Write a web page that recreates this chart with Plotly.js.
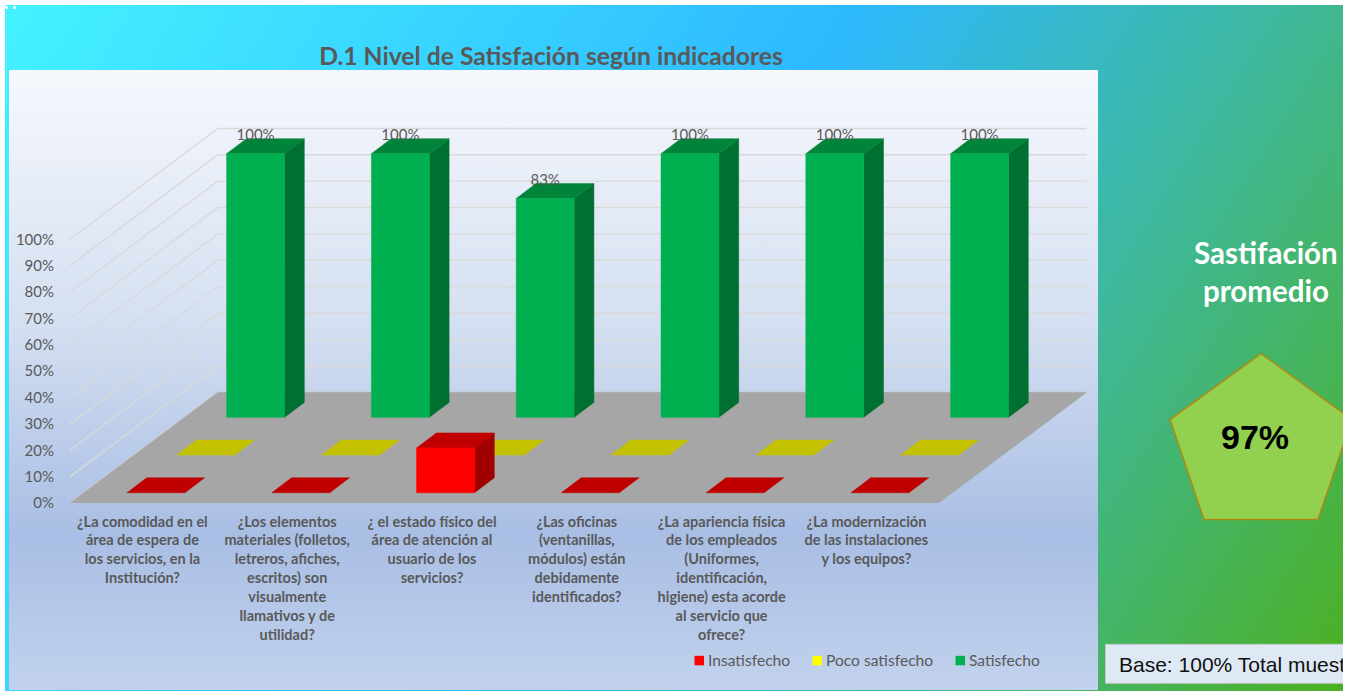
<!DOCTYPE html>
<html>
<head>
<meta charset="utf-8">
<script src="https://cdn.plot.ly/plotly-3.0.1.min.js"></script>
<style>
html,body{margin:0;padding:0;width:1351px;height:691px;overflow:hidden;background:#fff}
#outer{position:absolute;left:5px;top:5px;width:1338px;height:686px;
background:linear-gradient(122deg,#44F2FF 0%,#2EB9FF 48%,#3EB8A0 72%,#4CB020 100%)}
#panel{position:absolute;left:9px;top:70px;width:1089px;height:620px;
background:linear-gradient(180deg,#F6F8FD 0%,#D5E0F1 40%,#A9BEE4 75%,#C2D2ED 100%)}
#chart{position:absolute;left:0;top:0;width:1351px;height:691px}
#edge{position:absolute;left:1343px;top:0;width:8px;height:691px;background:#fff}
.dot{position:absolute;top:6px;width:3px;height:3px;background:#fff;opacity:.85}
</style>
</head>
<body>
<div id="outer"></div>
<div id="panel"></div>
<div class="dot" style="left:5px"></div>
<div class="dot" style="left:13px"></div>
<div id="chart"></div>
<div id="edge"></div>
<script>
// ---- chart data ----
const categories = [
  "¿La comodidad en el<br>área de espera de<br>los servicios, en la<br>Institución?",
  "¿Los elementos<br>materiales (folletos,<br>letreros, afiches,<br>escritos) son<br>visualmente<br>llamativos y de<br>utilidad?",
  "¿ el estado físico del<br>área de atención al<br>usuario de los<br>servicios?",
  "¿Las oficinas<br>(ventanillas,<br>módulos) están<br>debidamente<br>identificados?",
  "¿La apariencia física<br>de los empleados<br>(Uniformes,<br>identificación,<br>higiene) esta acorde<br>al servicio que<br>ofrece?",
  "¿La modernización<br>de las instalaciones<br>y los equipos?"
];
const insatisfecho = [0, 0, 17, 0, 0, 0];
const pocoSatisfecho = [0, 0, 0, 0, 0, 0];
const satisfecho = [100, 100, 83, 100, 100, 100];
const yTicks = [0, 10, 20, 30, 40, 50, 60, 70, 80, 90, 100];
const promedio = 97;

// ---- page geometry ----
const W = 1351, H = 691, L = 56, T = 70, Y0 = 503.5, X0 = 70;
const catPx = 144.8, pctPx = 2.64;
const dataX = px => (px - X0) / catPx;
const dataY = py => (Y0 - py) / pctPx;
const paperX = px => (px - L) / (W - L);
const paperY = py => (Y0 - py) / (Y0 - T);

// ---- oblique projection of the 3D chart, in axis units ----
const depthX = 148 / catPx, barDepthX = 146.5 / catPx, depthY = 111 / pctPx;
const halfW = 0.2, halfD = 0.0675;
const project = (c, d, v) => [c + d * depthX, v + d * depthY];
const projectBar = (c, d, v) => [c + d * barDepthX, v + d * depthY];

function polys(list) {
  const x = [], y = [];
  list.forEach(p => { p.forEach(q => { x.push(q[0]); y.push(q[1]); }); x.push(p[0][0]); y.push(p[0][1]); x.push(null); y.push(null); });
  return { x, y };
}
function face(list, color) {
  const r = polys(list);
  return { type: 'scatter', mode: 'lines', x: r.x, y: r.y, fill: 'toself', fillcolor: color,
    line: { color: color, width: 0.5 }, hoverinfo: 'skip', showlegend: false };
}
function barTraces(values, dc, cols) {
  const d0 = dc - halfD, d1 = dc + halfD;
  const fronts = [], tops = [], sides = [];
  values.forEach((v, i) => {
    const a = i + 0.5 - halfW, b = i + 0.5 + halfW;
    if (v > 0) {
      fronts.push([projectBar(a, d0, 0), projectBar(b, d0, 0), projectBar(b, d0, v), projectBar(a, d0, v)]);
      sides.push([projectBar(b, d0, 0), projectBar(b, d1, 0), projectBar(b, d1, v), projectBar(b, d0, v)]);
    }
    tops.push([projectBar(a, d0, v), projectBar(b, d0, v), projectBar(b, d1, v), projectBar(a, d1, v)]);
  });
  const out = [];
  if (sides.length) out.push(face(sides, cols.side));
  out.push(face(tops, cols.top));
  if (fronts.length) out.push(face(fronts, cols.front));
  return out;
}

// walls
const gx = [], gy = [];
yTicks.forEach(v => {
  [project(0, 0, v), project(0, 1, v), project(6, 1, v)].forEach(q => { gx.push(q[0]); gy.push(q[1]); });
  gx.push(null); gy.push(null);
});
const grid = { type: 'scatter', mode: 'lines', x: gx, y: gy, line: { color: '#D9D9D9', width: 1.4 }, hoverinfo: 'skip', showlegend: false };
const floor = face([[project(0, 0, 0), project(6, 0, 0), project(6, 1, 0), project(0, 1, 0)]], '#A6A6A6');

const green = { front: '#00B050', top: '#00843A', side: '#007032' };
const yellow = { front: '#FFFF00', top: '#C4C200', side: '#A0A000' };
const red = { front: '#FF0000', top: '#C00000', side: '#A00000' };
const rowGreen = 0.84, rowYellow = 0.5, rowRed = 0.16;

// data labels
const labelRow = rowGreen - halfD;
const labels = {
  type: 'scatter', mode: 'text',
  x: satisfecho.map((v, i) => projectBar(i + 0.5, labelRow, v)[0]),
  y: satisfecho.map((v, i) => projectBar(i + 0.5, labelRow, v)[1] + 17 / pctPx),
  text: satisfecho.map(v => v + '%'),
  textposition: 'middle center',
  textfont: { family: 'Lato', size: 15, color: '#595959' },
  hoverinfo: 'skip', showlegend: false, cliponaxis: false
};

const traces = [grid, floor]
  .concat(barTraces(satisfecho, rowGreen, green))
  .concat(barTraces(pocoSatisfecho, rowYellow, yellow))
  .concat(barTraces(insatisfecho, rowRed, red))
  .concat([labels]);

// key, drawn below the plot area
const keyNames = ['Insatisfecho', 'Poco satisfecho', 'Satisfecho'];
const keyColors = ['#FF0000', '#FFFF00', '#00B050'];
const keyLeft = [694.5, 812.5, 955.5];
const keyShapes = keyNames.map((n, i) => ({ type: 'rect', xref: 'paper', yref: 'paper',
  x0: paperX(keyLeft[i]), x1: paperX(keyLeft[i] + 9.5), y0: paperY(656.5), y1: paperY(666),
  fillcolor: keyColors[i], line: { width: 0 } }));
const keyNotes = keyNames.map((n, i) => ({ xref: 'paper', yref: 'paper', x: paperX(keyLeft[i] + 12.5), y: paperY(661),
  text: n, showarrow: false, xanchor: 'left', yanchor: 'middle', borderpad: 0,
  font: { family: 'Lato', size: 15.6, color: '#595959' } }));

const pent = [[1261, 354], [1352, 420], [1318, 520], [1204, 520], [1170, 420]];
const pentPath = 'M' + pent.map(p => paperX(p[0]) + ',' + paperY(p[1])).join('L') + 'Z';

const layout = {
  width: W, height: H,
  paper_bgcolor: 'rgba(0,0,0,0)', plot_bgcolor: 'rgba(0,0,0,0)',
  margin: { l: L, r: 0, t: T, b: H - Y0, pad: 0 },
  showlegend: false,
  title: { text: '<b>D.1 Nivel de Satisfación según indicadores</b>', x: 551 / W, xanchor: 'center', y: 1 - 56 / H, yanchor: 'middle',
    font: { family: 'Lato', size: 24.7, color: '#595959' } },
  xaxis: {
    range: [dataX(L), dataX(W)], showgrid: false, zeroline: false, showline: false, ticks: '',
    tickmode: 'array', tickvals: categories.map((c, i) => i + 0.5), ticktext: categories, tickangle: 0, ticklabelstandoff: 8,
    tickfont: { family: 'Lato', size: 14.5, color: '#595959', weight: 'bold' }, automargin: false, fixedrange: true
  },
  yaxis: {
    range: [0, dataY(T)], showgrid: false, zeroline: false, showline: false, ticks: '',
    tickmode: 'array', tickvals: yTicks, ticktext: yTicks.map(v => v + '%'), ticklabelstandoff: 1,
    tickfont: { family: 'Lato', size: 15, color: '#595959' }, automargin: false, fixedrange: true
  },
  shapes: [
    { type: 'path', xref: 'paper', yref: 'paper', path: pentPath, fillcolor: '#92D050', line: { color: '#B08A10', width: 1.5 } },
    { type: 'rect', xref: 'paper', yref: 'paper', x0: paperX(1105.5), x1: paperX(1346), y0: paperY(645), y1: paperY(684), fillcolor: '#DEE9F5', line: { color: '#C8C8C8', width: 1 } }
  ].concat(keyShapes),
  annotations: [
    { xref: 'paper', yref: 'paper', x: paperX(1266), y: paperY(253), text: '<b>Sastifación</b>', showarrow: false, xanchor: 'center', yanchor: 'middle', font: { family: 'Lato', size: 29.5, color: '#FFFFFF' } },
    { xref: 'paper', yref: 'paper', x: paperX(1266), y: paperY(291), text: '<b>promedio</b>', showarrow: false, xanchor: 'center', yanchor: 'middle', font: { family: 'Lato', size: 29.5, color: '#FFFFFF' } },
    { xref: 'paper', yref: 'paper', x: paperX(1255), y: paperY(437), text: '<b>' + promedio + '%</b>', showarrow: false, xanchor: 'center', yanchor: 'middle', font: { family: 'Liberation Sans', size: 34, color: '#000000' } },
    { xref: 'paper', yref: 'paper', x: paperX(1117), y: paperY(665), text: 'Base: 100% Total muest', showarrow: false, xanchor: 'left', yanchor: 'middle', font: { family: 'Liberation Sans', size: 21, color: '#111111' } }
  ].concat(keyNotes)
};
Plotly.newPlot('chart', traces, layout, { displayModeBar: false, staticPlot: true });
</script>
</body>
</html>
